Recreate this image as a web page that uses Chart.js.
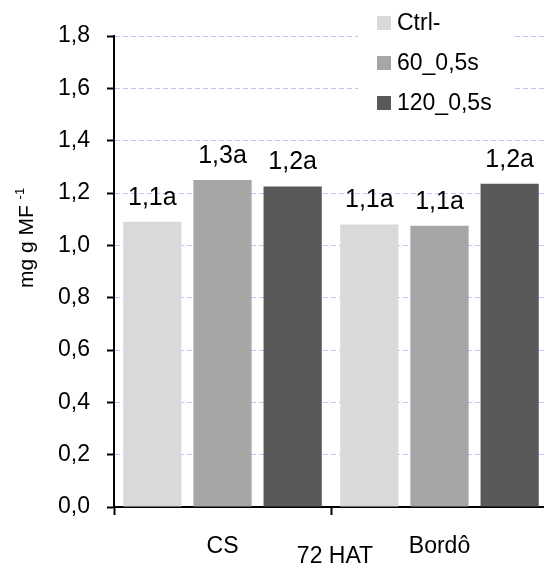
<!DOCTYPE html>
<html>
<head>
<meta charset="utf-8">
<script src="https://cdn.jsdelivr.net/npm/chart.js@4"></script>
<style>
  html, body { margin: 0; padding: 0; background: #fff; overflow: hidden; }
  #wrap { width: 544px; height: 563px; overflow: hidden; }
</style>
</head>
<body>
<div id="wrap"><canvas id="chart" width="548" height="563"></canvas></div>
<script>
// data
const categories = ['CS', 'Bordô'];
const seriesNames = ['Ctrl-', '60_0,5s', '120_0,5s'];
const ctrlValues = [1.09, 1.08];
const s60Values = [1.25, 1.075];
const s120Values = [1.225, 1.235];
const ctrlLabels = ['1,1a', '1,1a'];
const s60Labels = ['1,3a', '1,1a'];
const s120Labels = ['1,2a', '1,2a'];
const xTitle = '72 HAT';

const FONT = "'Liberation Sans', Arial, sans-serif";

// value labels above each bar
const barLabels = {
    id: 'barLabels',
    afterDatasetsDraw(chart) {
        const ctx = chart.ctx;
        ctx.save();
        ctx.font = '25px ' + FONT;
        ctx.fillStyle = '#000';
        ctx.textAlign = 'center';
        ctx.textBaseline = 'alphabetic';
        chart.data.datasets.forEach((ds, i) => {
            chart.getDatasetMeta(i).data.forEach((bar, j) => {
                ctx.fillText(ds.valueLabels[j], bar.x, bar.y - 17);
            });
        });
        ctx.restore();
    }
};

// legend box, axis title with superscript, x title
const extras = {
    id: 'extras',
    afterDraw(chart) {
        const ctx = chart.ctx;
        ctx.save();
        // legend on white background
        ctx.fillStyle = '#fff';
        ctx.fillRect(358, 0, 157, 120);
        ctx.font = '23px ' + FONT;
        ctx.textBaseline = 'middle';
        ctx.textAlign = 'left';
        chart.data.datasets.forEach((ds, i) => {
            const y = 23 + i * 40;
            ctx.fillStyle = ds.backgroundColor;
            ctx.fillRect(377, y - 7, 14, 14);
            ctx.fillStyle = '#000';
            ctx.fillText(ds.label, 397, y + 1);
        });

        // y title rotated
        ctx.translate(33, 238);
        ctx.rotate(-Math.PI / 2);
        ctx.font = '21px ' + FONT;
        ctx.textBaseline = 'alphabetic';
        const main = 'mg g MF ';
        const w1 = ctx.measureText(main).width;
        ctx.font = '13px ' + FONT;
        const w2 = ctx.measureText('-1').width;
        const start = -(w1 + w2) / 2;
        ctx.font = '21px ' + FONT;
        ctx.fillText(main, start, 0);
        ctx.font = '13px ' + FONT;
        ctx.fillText('-1', start + w1, -9);
        ctx.restore();

        ctx.save();
        ctx.font = '23px ' + FONT;
        ctx.fillStyle = '#000';
        ctx.textAlign = 'center';
        ctx.textBaseline = 'middle';
        ctx.fillText(xTitle, 335, 557);
        ctx.restore();
    }
};

const ctx = document.getElementById('chart').getContext('2d');
new Chart(ctx, {
    type: 'bar',
    data: {
        labels: categories,
        datasets: [
            { label: seriesNames[0], data: ctrlValues, valueLabels: ctrlLabels, backgroundColor: '#d9d9d9' },
            { label: seriesNames[1], data: s60Values, valueLabels: s60Labels, backgroundColor: '#a6a6a6' },
            { label: seriesNames[2], data: s120Values, valueLabels: s120Labels, backgroundColor: '#595959' }
        ]
    },
    options: {
        responsive: false,
        animation: false,
        categoryPercentage: 0.97,
        barPercentage: 0.83,
        layout: { padding: { top: 36, right: 0, left: 0, bottom: 0 } },
        plugins: {
            legend: { display: false },
            tooltip: { enabled: false }
        },
        scales: {
            x: {
                afterFit: s => { s.height = 56; },
                grid: {
                    display: true,
                    offset: true,
                    drawOnChartArea: false,
                    drawTicks: true,
                    tickLength: 8,
                    tickColor: '#000',
                    tickWidth: 2
                },
                border: { display: true, color: '#000', width: 2 },
                ticks: {
                    color: '#000',
                    padding: 18,
                    font: { family: FONT, size: 23 }
                }
            },
            y: {
                min: 0,
                max: 1.8,
                afterFit: s => { s.width = 114; },
                grid: {
                    color: '#c4c4fa',
                    lineWidth: 1,
                    tickLength: 7,
                    tickColor: '#000',
                    tickWidth: 2,
                    tickBorderDash: []
                },
                border: { display: true, color: '#000', width: 2, dash: [5, 3] },
                ticks: {
                    stepSize: 0.2,
                    color: '#000',
                    padding: 17,
                    font: { family: FONT, size: 23 },
                    callback: v => v.toFixed(1).replace('.', ',')
                }
            }
        }
    },
    plugins: [barLabels, extras]
});
</script>
</body>
</html>
